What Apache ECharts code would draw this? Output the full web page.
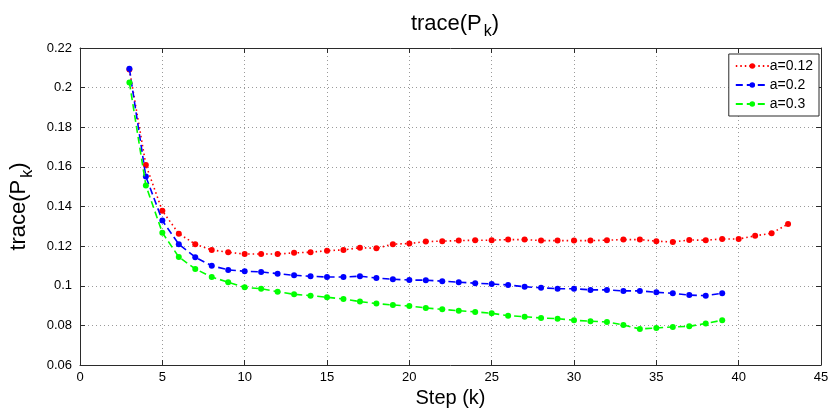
<!DOCTYPE html>
<html>
<head>
<meta charset="utf-8">
<script src="https://cdn.jsdelivr.net/npm/echarts@6/dist/echarts.min.js"></script>
<style>
  html, body { margin: 0; padding: 0; background: #fff; }
  #chart { width: 833px; height: 410px; }
</style>
</head>
<body>
<div id="chart"></div>
<script>
// Step indices for each run
const stepsA012 = [3, 4, 5, 6, 7, 8, 9, 10, 11, 12, 13, 14, 15, 16, 17, 18, 19, 20, 21, 22, 23,
  24, 25, 26, 27, 28, 29, 30, 31, 32, 33, 34, 35, 36, 37, 38, 39, 40, 41, 42, 43];
const stepsA02 = [3, 4, 5, 6, 7, 8, 9, 10, 11, 12, 13, 14, 15, 16, 17, 18, 19, 20, 21, 22, 23,
  24, 25, 26, 27, 28, 29, 30, 31, 32, 33, 34, 35, 36, 37, 38, 39];
const stepsA03 = [3, 4, 5, 6, 7, 8, 9, 10, 11, 12, 13, 14, 15, 16, 17, 18, 19, 20, 21, 22, 23,
  24, 25, 26, 27, 28, 29, 30, 31, 32, 33, 34, 35, 36, 37, 38, 39];

// trace(P_k) values
const traceA012 = [0.2092, 0.161, 0.1378, 0.1263, 0.121, 0.1181, 0.1169, 0.116, 0.116, 0.116,
  0.1166, 0.1169, 0.1177, 0.1181, 0.1192, 0.1189, 0.121, 0.1213, 0.1223, 0.1225, 0.1228,
  0.123, 0.123, 0.1233, 0.1233, 0.1228, 0.1228, 0.1228, 0.1228, 0.123, 0.1233, 0.1233,
  0.1225, 0.1221, 0.1231, 0.123, 0.1236, 0.1236, 0.1252, 0.1265, 0.1312];
const traceA02 = [0.2095, 0.1551, 0.1329, 0.121, 0.1144, 0.1101, 0.108, 0.1073, 0.107, 0.1061,
  0.1053, 0.1048, 0.1044, 0.1044, 0.1048, 0.1039, 0.1033, 0.1029, 0.1028, 0.1023, 0.1018,
  0.1013, 0.1009, 0.1004, 0.0995, 0.099, 0.0985, 0.0985, 0.0979, 0.0979, 0.0974, 0.0974,
  0.0967, 0.0962, 0.0953, 0.095, 0.0962];
const traceA03 = [0.2026, 0.1506, 0.1268, 0.1145, 0.1085, 0.1044, 0.1018, 0.0992, 0.0985, 0.097,
  0.0957, 0.095, 0.0942, 0.0933, 0.092, 0.091, 0.0903, 0.0898, 0.0888, 0.0881, 0.0874,
  0.0868, 0.0861, 0.0849, 0.0844, 0.0837, 0.0834, 0.0826, 0.0821, 0.0817, 0.0802, 0.0782,
  0.0787, 0.0792, 0.0795, 0.081, 0.0826];

const seriesNames = ['a=0.12', 'a=0.2', 'a=0.3'];
const xTicks = { min: 0, max: 45, interval: 5 };
const yTicks = { min: 0.06, max: 0.22, interval: 0.02 };

const FONT = '"Liberation Sans", Arial, sans-serif';
const pair = (xs, ys) => xs.map((x, i) => [x, ys[i]]);

const chart = echarts.init(document.getElementById('chart'), null, { renderer: 'canvas' });

const gridLine = { show: true, lineStyle: { color: '#9a9a9a', type: [1, 3], width: 1 } };
const boxLine = { show: true, onZero: false, lineStyle: { color: '#2b2b2b', width: 1 } };
const tickIn = { show: true, inside: true, length: 5, lineStyle: { color: '#2b2b2b' } };

// Shared rich style for trace(P_k) with a subscript k
const traceRich = {
  m: { fontFamily: FONT, fontSize: 22, fontWeight: 'normal', color: '#000' },
  s: { fontFamily: FONT, fontSize: 16, fontWeight: 'normal', color: '#000', padding: [17, 0, 0, 2] }
};

function lineSeries(name, data, color, dash, z) {
  return {
    name, type: 'line', data, z,
    xAxisIndex: 0, yAxisIndex: 0,
    symbol: 'circle', symbolSize: 6,
    itemStyle: { color },
    lineStyle: { color, width: 1.6, type: dash },
    emphasis: { disabled: true },
    animation: false
  };
}

chart.setOption({
  backgroundColor: '#ffffff',
  animation: false,
  title: {
    text: '{m|trace(P}{s|k}{m|)}',
    left: 450, textAlign: 'center', top: 2,
    textStyle: { fontWeight: 'normal', rich: traceRich }
  },
  grid: {
    left: 80, right: 12, top: 48, bottom: 45,
    containLabel: false, outerBoundsMode: 'none'
  },
  legend: {
    data: seriesNames,
    orient: 'vertical',
    right: 14, top: 54,
    backgroundColor: '#fff',
    borderColor: '#2b2b2b', borderWidth: 1, borderRadius: 0,
    padding: [5, 6, 5, 6],
    itemWidth: 33, itemHeight: 7, itemGap: 5,
    textStyle: { fontFamily: FONT, fontSize: 14, color: '#000', padding: [0, 0, 0, -4] }
  },
  xAxis: [
    {
      type: 'value', position: 'bottom', ...xTicks,
      name: 'Step (k)', nameLocation: 'middle', nameGap: 22,
      nameTextStyle: { fontFamily: FONT, fontSize: 20, color: '#000' },
      axisLine: boxLine, axisTick: tickIn, splitLine: gridLine,
      axisLabel: { fontFamily: FONT, fontSize: 13, color: '#000', margin: 6 }
    },
    {
      type: 'value', position: 'top', ...xTicks,
      axisLine: boxLine, axisTick: tickIn, splitLine: { show: false },
      axisLabel: { show: false }
    }
  ],
  yAxis: [
    {
      type: 'value', position: 'left', ...yTicks,
      name: '{m|trace(P}{s|k}{m|)}', nameLocation: 'middle', nameGap: 35,
      nameTextStyle: { rich: traceRich },
      axisLine: boxLine, axisTick: tickIn, splitLine: gridLine,
      axisLabel: { fontFamily: FONT, fontSize: 13, color: '#000', margin: 8 }
    },
    {
      type: 'value', position: 'right', ...yTicks,
      axisLine: boxLine, axisTick: tickIn, splitLine: { show: false },
      axisLabel: { show: false }
    }
  ],
  series: [
    lineSeries(seriesNames[0], pair(stepsA012, traceA012), '#ff0000', [1.5, 3], 2),
    lineSeries(seriesNames[1], pair(stepsA02, traceA02), '#0000ff', [7, 4], 3),
    lineSeries(seriesNames[2], pair(stepsA03, traceA03), '#00ff00', [7, 4], 4)
  ]
});
</script>
</body>
</html>
